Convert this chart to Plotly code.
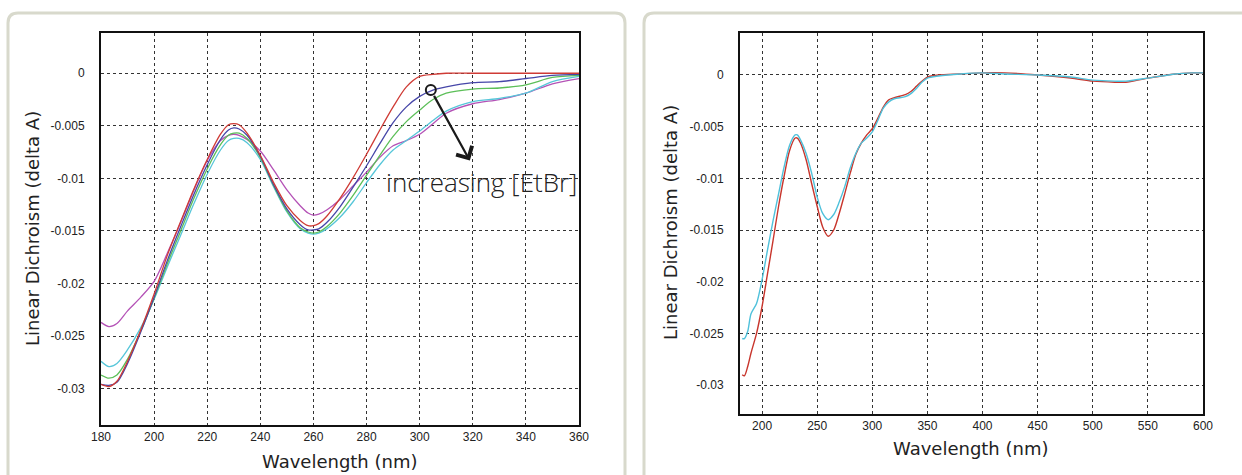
import plotly.graph_objects as go

# ---------------- data ----------------
wl_left = [180, 183, 186, 190, 195, 200, 205, 210, 215, 220, 225, 228, 230, 232, 235, 240, 245, 250,
           255, 258, 260, 262, 265, 270, 275, 280, 285, 290, 295, 300, 305, 310, 320, 330, 340, 350, 360]

ld_red = [-0.0296, -0.0298, -0.0293, -0.0274, -0.0244, -0.0210, -0.0173, -0.0141, -0.0110, -0.0082,
          -0.0058, -0.0049, -0.0048, -0.0049, -0.0057, -0.0078, -0.0104, -0.0126, -0.0140, -0.0145,
          -0.0145, -0.0143, -0.0136, -0.0119, -0.0099, -0.0077, -0.0054, -0.0032, -0.0013, -0.0003,
          -0.0001, 0.0, 0.0, 0.0, 0.0, 0.0, 0.0]
ld_blue = [-0.0296, -0.0297, -0.0294, -0.0276, -0.0246, -0.0213, -0.0178, -0.0146, -0.0115, -0.0087,
           -0.0063, -0.0054, -0.0052, -0.0053, -0.0059, -0.0079, -0.0106, -0.0129, -0.0144, -0.0149,
           -0.0149, -0.0148, -0.0142, -0.0127, -0.0108, -0.0088, -0.0067, -0.0047, -0.0032, -0.0022,
           -0.0016, -0.0013, -0.0009, -0.0008, -0.0005, -0.0002, -0.0001]
ld_green = [-0.0287, -0.0290, -0.0287, -0.0272, -0.0245, -0.0214, -0.0181, -0.0150, -0.0119, -0.0091,
            -0.0068, -0.0059, -0.0057, -0.0057, -0.0062, -0.0080, -0.0107, -0.0131, -0.0147, -0.0151,
            -0.0152, -0.0151, -0.0146, -0.0133, -0.0116, -0.0097, -0.0078, -0.0060, -0.0046, -0.0035,
            -0.0025, -0.0019, -0.0015, -0.0014, -0.0011, -0.0004, -0.0002]
ld_cyan = [-0.0274, -0.0279, -0.0276, -0.0263, -0.0242, -0.0215, -0.0184, -0.0154, -0.0124, -0.0096,
           -0.0073, -0.0064, -0.0062, -0.0062, -0.0066, -0.0082, -0.0108, -0.0132, -0.0148, -0.0152,
           -0.0153, -0.0152, -0.0148, -0.0137, -0.0122, -0.0104, -0.0087, -0.0073, -0.0064, -0.0055,
           -0.0045, -0.0036, -0.0027, -0.0024, -0.0019, -0.0008, -0.0003]
ld_magenta = [-0.0237, -0.0241, -0.0238, -0.0226, -0.0213, -0.0198, -0.0171, -0.0142, -0.0111, -0.0083,
              -0.0064, -0.0059, -0.0058, -0.0059, -0.0063, -0.0074, -0.0092, -0.0111, -0.0126, -0.0133,
              -0.0135, -0.0134, -0.0130, -0.0120, -0.0107, -0.0094, -0.0080, -0.0069, -0.0064, -0.0058,
              -0.0048, -0.0038, -0.0029, -0.0025, -0.0019, -0.0010, -0.0005]

wl_right = [182, 184, 187, 190, 195, 200, 205, 210, 215, 220, 225, 230, 232, 235, 240, 245, 250, 255,
            260, 265, 270, 275, 280, 285, 290, 295, 300, 305, 310, 315, 320, 330, 335, 340, 345, 350,
            360, 380, 400, 420, 450, 480, 500, 520, 530, 550, 575, 590, 600]
ld2_red = [-0.0290, -0.0291, -0.0282, -0.0269, -0.0250, -0.0224, -0.0192, -0.0160, -0.0127, -0.0098,
           -0.0073, -0.0061, -0.0061, -0.0066, -0.0082, -0.0105, -0.0127, -0.0147, -0.0156, -0.0150,
           -0.0134, -0.0115, -0.0095, -0.0077, -0.0066, -0.0058, -0.0052, -0.0042, -0.0031, -0.0024,
           -0.0022, -0.0019, -0.0016, -0.0011, -0.0006, -0.0002, 0.0000, 0.0001, 0.0002, 0.0002,
           0.0000, -0.0003, -0.0006, -0.0007, -0.0007, -0.0003, 0.0001, 0.0002, 0.0002]
ld2_cyan = [-0.0255, -0.0255, -0.0248, -0.0231, -0.0221, -0.0198, -0.0169, -0.0141, -0.0115, -0.0089,
            -0.0068, -0.0058, -0.0058, -0.0063, -0.0076, -0.0095, -0.0118, -0.0134, -0.0140, -0.0135,
            -0.0123, -0.0108, -0.0090, -0.0076, -0.0066, -0.0061, -0.0055, -0.0044, -0.0032, -0.0026,
            -0.0023, -0.0021, -0.0018, -0.0013, -0.0007, -0.0003, -0.0001, 0.0001, 0.0002, 0.0001,
            0.0000, -0.0002, -0.0005, -0.0006, -0.0006, -0.0003, 0.0001, 0.0002, 0.0002]

y_tickvals = [0, -0.005, -0.01, -0.015, -0.02, -0.025, -0.03]
y_ticktext = ["0", "-0.005", "-0.01", "-0.015", "-0.02", "-0.025", "-0.03"]
x_left_ticks = [180, 200, 220, 240, 260, 280, 300, 320, 340, 360]
x_right_ticks = [200, 250, 300, 350, 400, 450, 500, 550, 600]

x_title = "Wavelength (nm)"
y_title = "Linear Dichroism (delta A)"
note_text = "increasing [EtBr]"

# ---------------- layout helpers ----------------
W, H = 1242, 475


def px(x):
    return x / W


def py(y):
    return 1 - y / H


TICK_FONT = dict(family="Liberation Sans Narrow, Arial Narrow, Liberation Sans, Arial, sans-serif", size=12, color="#222")
TITLE_FONT = dict(family="DejaVu Sans", size=18, color="#222")

fig = go.Figure()

left_series = [
    (ld_magenta, "#b452b6"),
    (ld_cyan, "#56c6d9"),
    (ld_green, "#5cbf58"),
    (ld_blue, "#4646a8"),
    (ld_red, "#cf3b35"),
]
for ys, col in left_series:
    fig.add_trace(go.Scatter(x=wl_left, y=ys, mode="lines", line=dict(color=col, width=1.3, shape="spline", smoothing=0.8),
                             xaxis="x", yaxis="y", showlegend=False, hoverinfo="skip"))

for ys, col in [(ld2_red, "#c8352c"), (ld2_cyan, "#4fc1db")]:
    fig.add_trace(go.Scatter(x=wl_right, y=ys, mode="lines", line=dict(color=col, width=1.4, shape="spline", smoothing=0.8),
                             xaxis="x2", yaxis="y2", showlegend=False, hoverinfo="skip"))

axis_common = dict(showline=True, mirror=True, linecolor="#111", linewidth=2,
                   showgrid=True, gridcolor="#333", griddash="dot", gridwidth=1,
                   zeroline=False, tickfont=TICK_FONT, fixedrange=True, automargin=False)
x_ticks = dict(ticks="", ticklabelstandoff=0)
y_ticks = dict(ticks="outside", ticklen=12, tickcolor="rgba(0,0,0,0)")

fig.update_layout(
    width=W, height=H, autosize=False,
    margin=dict(l=0, r=0, t=0, b=0, pad=0),
    paper_bgcolor="white", plot_bgcolor="white",
    xaxis=dict(domain=[px(101), px(579)], range=[180, 360], anchor="y",
               tickvals=x_left_ticks, **x_ticks, **axis_common),
    yaxis=dict(domain=[py(425), py(33)], range=[-0.03346, 0.00383], anchor="x",
               tickvals=y_tickvals, ticktext=y_ticktext, **y_ticks, **axis_common),
    xaxis2=dict(domain=[px(740), px(1203)], range=[180, 600], anchor="y2",
                tickvals=x_right_ticks, **x_ticks, **axis_common),
    yaxis2=dict(domain=[py(414), py(33)], range=[-0.0328, 0.00406], anchor="x2",
                tickvals=y_tickvals, ticktext=y_ticktext, **y_ticks, **axis_common),
)

# card outlines with rounded corners
def card(x0, x1, top, bottom, r=10):
    return (f"M {px(x0)},{py(bottom)} L {px(x0)},{py(top + r)} Q {px(x0)},{py(top)} {px(x0 + r)},{py(top)} "
            f"L {px(x1 - r)},{py(top)} Q {px(x1)},{py(top)} {px(x1)},{py(top + r)} L {px(x1)},{py(bottom)}")

shapes = [
    dict(type="path", xref="paper", yref="paper", path=card(8, 625, 13, 490), line=dict(color="#d8d9cc", width=3), layer="below"),
    dict(type="path", xref="paper", yref="paper", path=card(644, 1262, 13, 490), line=dict(color="#d8d9cc", width=3), layer="below"),
    # open circle at the arrow start
    dict(type="circle", xref="x", yref="y", xsizemode="pixel", ysizemode="pixel",
         xanchor=304.2, yanchor=-0.00159, x0=-5, x1=5, y0=-5, y1=5,
         line=dict(color="#1a1a1a", width=2)),
]
fig.update_layout(shapes=shapes)

annotations = [
    # axis titles
    dict(text=x_title, xref="paper", yref="paper", x=px(340), y=py(461), showarrow=False, font=TITLE_FONT,
         xanchor="center", yanchor="middle"),
    dict(text=y_title, xref="paper", yref="paper", x=px(32), y=py(229), showarrow=False, font=TITLE_FONT,
         textangle=-90, xanchor="center", yanchor="middle"),
    dict(text=x_title, xref="paper", yref="paper", x=px(971), y=py(448), showarrow=False, font=TITLE_FONT,
         xanchor="center", yanchor="middle"),
    dict(text=y_title, xref="paper", yref="paper", x=px(671), y=py(223), showarrow=False, font=TITLE_FONT,
         textangle=-90, xanchor="center", yanchor="middle"),
    # arrow
    dict(x=318.9, y=-0.00831, xref="x", yref="y", ax=304.2, ay=-0.00159, axref="x", ayref="y",
         text="", showarrow=True, arrowhead=4, arrowsize=1.6, arrowwidth=2.2, arrowcolor="#1a1a1a",
         startstandoff=5),
    dict(text=note_text, x=323.4, y=-0.01034, xref="x", yref="y", showarrow=False,
         font=dict(family="Open Sans, Lato, sans-serif", size=26, color="#222", weight=300),
         xanchor="center", yanchor="middle"),
]
fig.update_layout(annotations=annotations)

fig.write_html("out.html", config={"displayModeBar": False},
               post_script="document.body.style.margin='0';document.body.style.overflow='hidden';")
